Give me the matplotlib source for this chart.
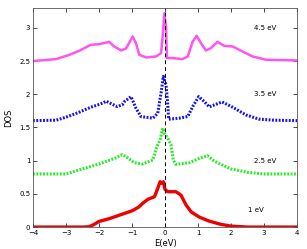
import matplotlib
matplotlib.use('Agg')
import matplotlib.pyplot as plt

# --- data ---
e_red = [-4.0, -2.5, -2.3, -2.15, -2.0, -1.7, -1.38, -1.0, -0.8, -0.68, -0.52, -0.32,
         -0.22, -0.15, -0.09, -0.05, 0.0, 0.08, 0.33, 0.48, 0.64, 0.79, 1.04, 1.34,
         1.7, 2.0, 2.5, 4.0]
dos_red = [0.0, 0.0, 0.005, 0.04, 0.085, 0.125, 0.18, 0.245, 0.3, 0.357, 0.418, 0.457,
           0.583, 0.683, 0.66, 0.683, 0.568, 0.533, 0.533, 0.483, 0.332, 0.23, 0.15,
           0.09, 0.04, 0.015, 0.0, 0.0]

e_green = [-4.0, -3.0, -2.5, -2.0, -1.5, -1.3, -1.18, -0.93, -0.68, -0.37, -0.25,
           -0.15, -0.07, -0.02, 0.08, 0.18, 0.25, 0.33, 0.74, 1.04, 1.29, 1.5, 2.0,
           2.5, 3.0, 4.0]
dos_green = [0.8, 0.8, 0.875, 0.95, 1.04, 1.09, 1.06, 0.97, 0.95, 1.01, 1.21,
             1.31, 1.49, 1.41, 1.34, 1.24, 1.01, 0.945, 0.97, 1.035, 1.075, 0.99, 0.875,
             0.825, 0.8, 0.8]

e_blue = [-4.0, -3.3, -3.0, -2.6, -2.25, -1.95, -1.78, -1.45, -1.3, -1.23, -1.03, -0.88,
          -0.73, -0.37, -0.22, -0.12, -0.05, 0.03, 0.08, 0.11, 0.43, 0.69, 0.84, 1.02,
          1.19, 1.34, 1.73, 2.05, 2.45, 2.85, 3.3, 4.0]
dos_blue = [1.603, 1.61, 1.655, 1.73, 1.805, 1.855, 1.895, 1.815, 1.84, 1.89, 1.965, 1.79,
            1.665, 1.64, 1.715, 2.02, 2.27, 2.14, 1.865, 1.625, 1.64, 1.665, 1.815, 1.965,
            1.89, 1.81, 1.885, 1.805, 1.69, 1.625, 1.61, 1.603]

e_mag = [-4.0, -3.3, -2.9, -2.6, -2.25, -1.99, -1.69, -1.54, -1.33, -1.18, -0.98, -0.88,
         -0.78, -0.57, -0.27, -0.12, -0.07, -0.02, 0.03, 0.06, 0.23, 0.53, 0.69, 0.84,
         0.96, 1.09, 1.24, 1.39, 1.59, 1.79, 2.05, 2.35, 2.65, 3.06, 4.0]
dos_mag = [2.5, 2.53, 2.594, 2.655, 2.745, 2.755, 2.79, 2.72, 2.66, 2.69, 2.87, 2.77,
           2.595, 2.555, 2.57, 2.62, 2.87, 3.22, 3.02, 2.545, 2.545, 2.53, 2.57, 2.795,
           2.88, 2.77, 2.66, 2.695, 2.79, 2.73, 2.72, 2.645, 2.57, 2.52, 2.51]

labels = ['1 eV', '2.5 eV', '3.5 eV', '4.5 eV']
label_x = [2.5, 2.71, 2.71, 2.71]
label_y = [0.25, 1.0, 2.0, 3.0]

fig = plt.figure(figsize=(3.07, 2.49), dpi=100)
ax = fig.add_axes([0.1075, 0.088, 0.86, 0.88])

ax.plot(e_red, dos_red, color='#ee0000', lw=2.4, solid_joinstyle='round')
ax.plot(e_green, dos_green, color='#22ee22', lw=2.2, ls=(0, (0.6, 0.5)))
ax.plot(e_blue, dos_blue, color='#1111ee', lw=2.2, ls=(0, (0.6, 0.5)))
ax.plot(e_mag, dos_mag, color='#ff55ee', lw=1.8, solid_joinstyle='round')

ax.axvline(0, color='black', lw=0.7, ls=(0, (4, 3)))

for txt, x, y in zip(labels, label_x, label_y):
    ax.text(x, y, txt, fontsize=5, va='center', ha='left')

ax.set_xlim(-4, 4)
ax.set_ylim(0, 3.3)
ax.set_xticks(range(-4, 5))
ax.set_yticks([0, 0.5, 1, 1.5, 2, 2.5, 3])
ax.set_yticklabels(['0', '0.5', '1', '1.5', '2', '2.5', '3'])
ax.tick_params(direction='in', top=True, right=True, labelsize=5, length=3, width=0.5,
               pad=2)
for s in ax.spines.values():
    s.set_linewidth(0.6)
    s.set_color('#555555')

ax.set_xlabel('E(eV)', fontsize=6, labelpad=2)
ax.set_ylabel('DOS', fontsize=6, labelpad=4)

fig.savefig('out.png', dpi=100)
